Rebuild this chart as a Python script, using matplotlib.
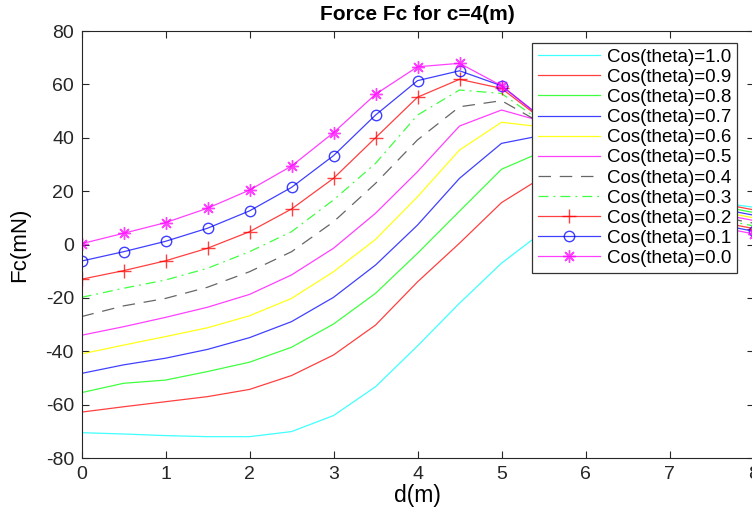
import matplotlib
matplotlib.use('Agg')
import matplotlib.pyplot as plt

plt.rcParams['font.family'] = ['Liberation Sans', 'DejaVu Sans']
plt.rcParams['axes.unicode_minus'] = False

# distance d(m)
d = [0, 0.5, 1, 1.5, 2, 2.5, 3, 3.5, 4, 4.5, 5, 5.5, 6, 6.5, 7, 7.5, 8]

# Fc(mN) for each cos(theta) value (part behind legend estimated)
fc_10 = [-70.5, -71.0, -71.6, -72.0, -72.0, -70.1, -64.1, -53.3, -38.0, -22.0, -7.0, 5.0, 16.0, 20.0, 19.0, 16.0, 14.0]
fc_09 = [-62.8, -60.8, -58.9, -57.0, -54.3, -49.1, -41.4, -30.2, -14.0, 0.5, 15.7, 25.5, 28.0, 26.0, 21.0, 16.0, 13.0]
fc_08 = [-55.5, -52.0, -50.8, -47.6, -44.1, -38.5, -29.8, -18.3, -3.3, 12.5, 28.2, 35.0, 33.0, 28.0, 21.0, 15.0, 12.0]
fc_07 = [-48.3, -45.1, -42.6, -39.3, -34.9, -28.9, -19.8, -7.7, 7.3, 24.8, 37.9, 41.0, 36.0, 28.5, 20.0, 14.0, 11.0]
fc_06 = [-41.0, -37.7, -34.5, -31.2, -26.7, -20.2, -10.2, 1.9, 17.9, 35.4, 45.8, 44.0, 37.0, 28.0, 19.0, 13.0, 10.0]
fc_05 = [-34.0, -30.8, -27.3, -23.5, -18.7, -11.4, -1.4, 11.7, 27.3, 44.4, 50.4, 46.0, 36.0, 27.0, 18.0, 12.0, 9.0]
fc_04 = [-27.0, -23.0, -20.2, -16.0, -10.2, -2.7, 8.5, 22.9, 39.2, 51.6, 53.9, 45.0, 35.0, 26.0, 17.0, 11.0, 8.0]
fc_03 = [-19.8, -16.4, -13.3, -8.9, -2.7, 4.8, 16.7, 30.4, 48.5, 57.9, 56.6, 45.5, 35.0, 25.0, 16.0, 10.0, 7.0]
fc_02 = [-13.0, -9.8, -6.1, -1.4, 4.8, 13.3, 24.8, 40.0, 55.2, 61.9, 58.5, 46.5, 35.0, 24.0, 15.0, 9.0, 6.0]
fc_01 = [-6.2, -2.7, 1.2, 6.1, 12.6, 21.4, 33.3, 48.5, 61.4, 65.1, 59.5, 47.0, 34.0, 23.0, 14.0, 8.0, 5.0]
fc_00 = [0.3, 4.2, 8.2, 13.6, 20.4, 29.4, 41.9, 56.3, 66.6, 67.9, 59.5, 47.0, 33.0, 22.0, 13.0, 7.0, 4.0]

labels = ['Cos(theta)=1.0', 'Cos(theta)=0.9', 'Cos(theta)=0.8', 'Cos(theta)=0.7',
          'Cos(theta)=0.6', 'Cos(theta)=0.5', 'Cos(theta)=0.4', 'Cos(theta)=0.3',
          'Cos(theta)=0.2', 'Cos(theta)=0.1', 'Cos(theta)=0.0']

fig = plt.figure(figsize=(7.52, 5.11), dpi=100)
ax = fig.add_axes([0.1084, 0.1037, 0.8936, 0.8356])

lw = 0.9
a = 0.75
ax.plot(d, fc_10, '-', color='#00ffff', lw=lw, alpha=a, label=labels[0])
ax.plot(d, fc_09, '-', color='#ff0000', lw=lw, alpha=a, label=labels[1])
ax.plot(d, fc_08, '-', color='#00ff00', lw=lw, alpha=a, label=labels[2])
ax.plot(d, fc_07, '-', color='#0000ff', lw=lw, alpha=a, label=labels[3])
ax.plot(d, fc_06, '-', color='#ffff00', lw=lw, alpha=0.9, label=labels[4])
ax.plot(d, fc_05, '-', color='#ff00ff', lw=lw, alpha=a, label=labels[5])
ax.plot(d, fc_04, color='#333333', lw=lw, alpha=a, linestyle=(0, (10, 7)), label=labels[6])
ax.plot(d, fc_03, color='#00ff00', lw=lw, alpha=a, linestyle=(0, (8, 4, 1.5, 4)), label=labels[7])
ax.plot(d, fc_02, '-', color='#ff0000', lw=lw, alpha=a, marker='+', markersize=10,
        markeredgewidth=1.0, label=labels[8])
ax.plot(d, fc_01, '-', color='#0000ff', lw=lw, alpha=a, marker='o', markersize=7.5,
        markerfacecolor='none', label=labels[9])
ax.plot(d, fc_00, '-', color='#ff00ff', lw=lw, alpha=a, marker=(8, 2, 0), markersize=9,
        markeredgewidth=1.0, label=labels[10])

ax.set_xlim(0, 8)
ax.set_ylim(-80, 80)
ax.set_xticks(range(0, 9))
ax.set_yticks(range(-80, 81, 20))
ax.tick_params(direction='in', length=5, top=True, right=True, labelsize=14,
               colors='#262626', pad=5.5)
for s in ax.spines.values():
    s.set_color('#262626')
    s.set_linewidth(0.8)

ax.set_title('Force Fc for c=4(m)', fontsize=15, fontweight='bold', pad=8)
ax.set_xlabel('d(m)', fontsize=16.5, labelpad=1)
ax.set_ylabel('Fc(mN)', fontsize=16, labelpad=11)

leg = ax.legend(loc='upper right', bbox_to_anchor=(737 / 752, 1 - 43 / 511),
                bbox_transform=fig.transFigure, borderaxespad=0, fontsize=13.5,
                handlelength=3.3, labelspacing=0.16, fancybox=False, framealpha=1,
                edgecolor='#333333', borderpad=0.3, handletextpad=0.4)
leg.get_frame().set_linewidth(0.9)

fig.savefig('out.png', dpi=100)
